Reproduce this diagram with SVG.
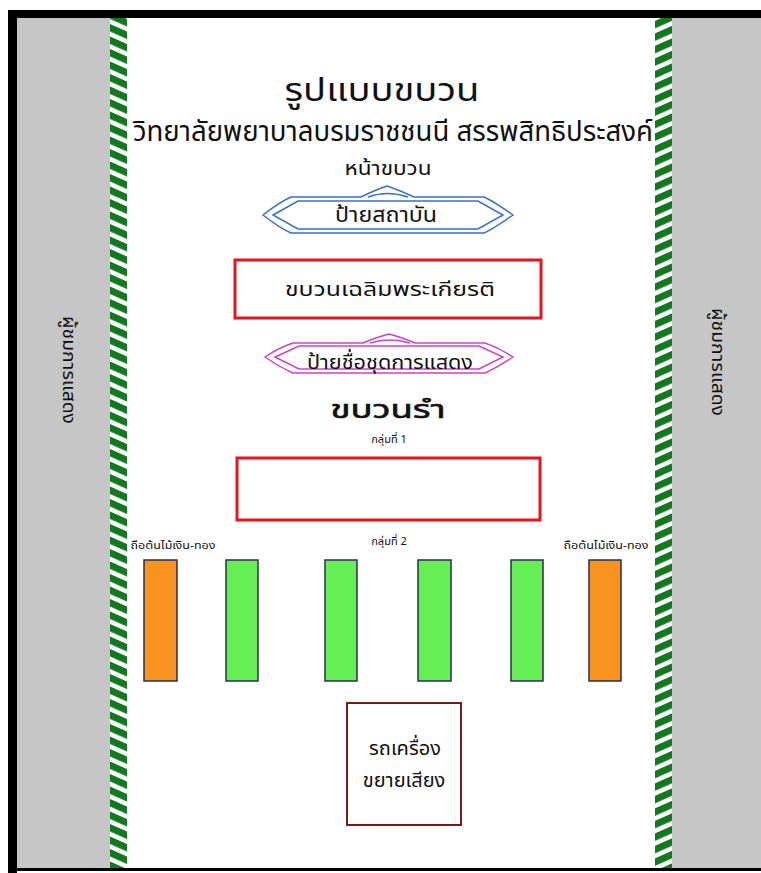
<svg xmlns="http://www.w3.org/2000/svg" width="761" height="873" viewBox="0 0 761 873">
<style>
text{font-family:"Noto Sans Thai","Noto Sans","DejaVu Sans","Liberation Sans",sans-serif;fill:#111;text-anchor:middle}
.gray{fill:#c6c6c6}
.blk{fill:#000}
.bar{stroke:#2a2f4a;stroke-width:1.5}
.or{fill:#f7931e}
.gr{fill:#66ee55}
.red{fill:#fff;stroke:#e8141c;stroke-width:3}
.bl{fill:#fff;stroke:#3a6fc8;stroke-width:1.5}
.mg{fill:#fff;stroke:#d040c8;stroke-width:1.5}
.side{font-size:17px}
.sm{font-size:11px}
</style>
<defs>
<pattern id="stripeL" patternUnits="userSpaceOnUse" width="17" height="12.5" patternTransform="skewY(24)">
<rect width="17" height="12.5" fill="#fff"/>
<rect width="17" height="7.5" fill="#127a1e"/>
</pattern>
<pattern id="stripeR" patternUnits="userSpaceOnUse" width="17" height="12.5" patternTransform="skewY(-24)">
<rect width="17" height="12.5" fill="#fff"/>
<rect width="17" height="7.5" fill="#127a1e"/>
</pattern>
</defs>
<rect width="761" height="873" fill="#fff"/>
<g id="road-left">
<rect class="gray" x="17" y="18" width="93" height="851"/>
<rect x="110" y="18" width="17" height="851" fill="url(#stripeL)"/>
<text class="side" transform="translate(63,370) rotate(90)" textLength="108" lengthAdjust="spacingAndGlyphs">ผู้ชมการแสดง</text>
</g>
<g id="road-right">
<rect class="gray" x="672" y="18" width="89" height="851"/>
<rect x="655" y="18" width="17" height="851" fill="url(#stripeR)"/>
<text class="side" transform="translate(712,362) rotate(90)" textLength="108" lengthAdjust="spacingAndGlyphs">ผู้ชมการแสดง</text>
</g>
<g id="frame">
<rect class="blk" x="8" y="10" width="753" height="8"/>
<rect class="blk" x="8" y="10" width="9" height="863"/>
<rect class="blk" x="8" y="868" width="753" height="3"/>
</g>
<g id="title">
<text x="382" y="101" font-size="32" textLength="195" lengthAdjust="spacingAndGlyphs">รูปแบบขบวน</text>
<text x="393" y="141" font-size="28" textLength="520" lengthAdjust="spacingAndGlyphs">วิทยาลัยพยาบาลบรมราชชนนี สรรพสิทธิประสงค์</text>
<text x="388" y="175" font-size="19" textLength="87" lengthAdjust="spacingAndGlyphs">หน้าขบวน</text>
</g>
<g id="banner-institute">
<path class="bl" d="M263,215 C272,208 282,201 291,197 L361,197 Q375,190 387,186 Q399,190 414,197 L484,197 C493,201 503,208 513,215 C503,222 493,229 484,233 L291,233 C282,229 272,222 263,215 Z"/>
<path class="bl" d="M273,215 L298,201 L478,201 L503,215 L478,229 L298,229 Z"/>
<path class="bl" fill="none" d="M368,197 Q387,190 408,197"/>
<text x="386" y="222" font-size="21" textLength="102" lengthAdjust="spacingAndGlyphs">ป้ายสถาบัน</text>
</g>
<g id="royal-procession">
<rect class="red" x="235" y="260" width="306" height="58"/>
<text x="390" y="296" font-size="20" textLength="210" lengthAdjust="spacingAndGlyphs">ขบวนเฉลิมพระเกียรติ</text>
</g>
<g id="banner-show">
<path class="mg" d="M265,357 C274,351 284,346 293,343 L363,343 Q377,337 389,334 Q401,337 415,343 L485,343 C494,346 504,351 513,357 C504,363 494,369 485,373 L293,373 C284,369 274,363 265,357 Z"/>
<path class="mg" d="M275,357 L299,346 L479,346 L503,357 L479,369 L299,369 Z"/>
<path class="mg" fill="none" d="M370,343 Q389,337 410,343"/>
<text x="390" y="369" font-size="20" textLength="166" lengthAdjust="spacingAndGlyphs">ป้ายชื่อชุดการแสดง</text>
</g>
<g id="dance-label">
<text x="388" y="418" font-size="25" stroke="#111" stroke-width="0.6" textLength="115" lengthAdjust="spacingAndGlyphs">ขบวนรำ</text>
<text class="sm" x="389" y="443">กลุ่มที่ 1</text>
</g>
<g id="group1">
<rect class="red" x="237" y="458" width="303" height="62"/>
</g>
<g id="group2">
<text class="sm" x="389" y="545">กลุ่มที่ 2</text>
<text class="sm" x="173" y="549" textLength="85" lengthAdjust="spacingAndGlyphs">ถือต้นไม้เงิน-ทอง</text>
<text class="sm" x="606" y="549" textLength="85" lengthAdjust="spacingAndGlyphs">ถือต้นไม้เงิน-ทอง</text>
<rect class="bar or" x="144" y="560" width="33" height="121"/>
<rect class="bar gr" x="226" y="560" width="32" height="121"/>
<rect class="bar gr" x="325" y="560" width="32" height="121"/>
<rect class="bar gr" x="418" y="560" width="33" height="121"/>
<rect class="bar gr" x="511" y="560" width="32" height="121"/>
<rect class="bar or" x="589" y="560" width="32" height="121"/>
</g>
<g id="sound-truck">
<rect x="347" y="703" width="114" height="122" fill="#fff" stroke="#7a1a1a" stroke-width="2"/>
<text x="405" y="755" font-size="20">รถเครื่อง</text>
<text x="404" y="787" font-size="20">ขยายเสียง</text>
</g>
<g id="connectors"></g>
</svg>
